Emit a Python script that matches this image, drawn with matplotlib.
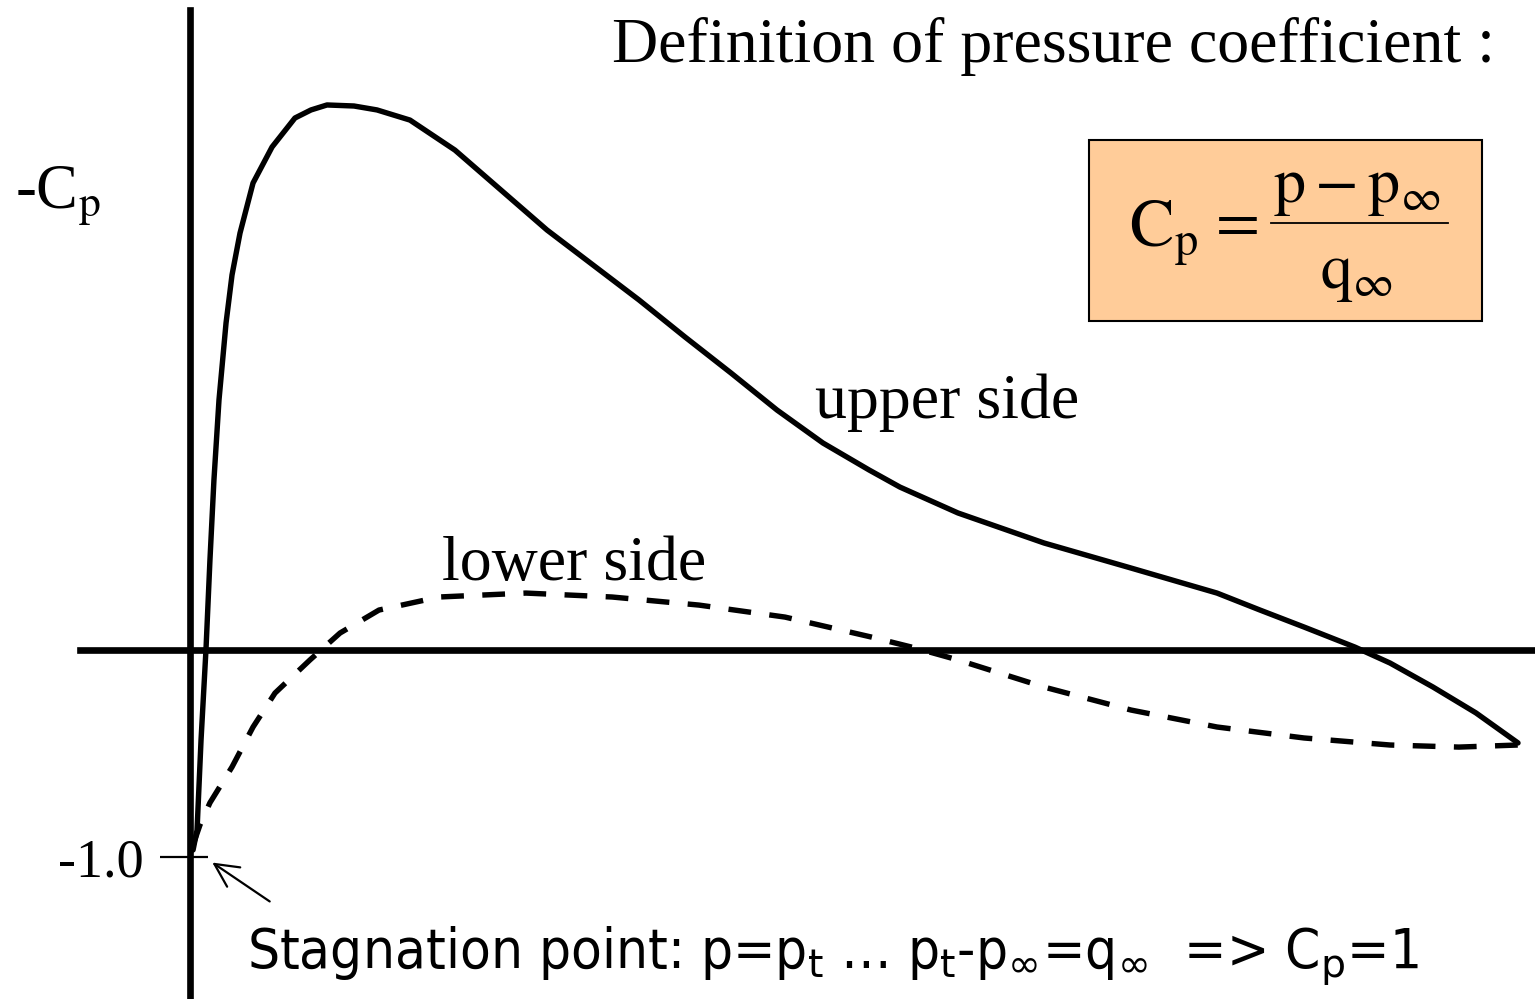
import numpy as np
import matplotlib
matplotlib.use("Agg")
import matplotlib.pyplot as plt
from matplotlib.patches import Rectangle
from matplotlib.lines import Line2D

# chord position x/c and -Cp
upper_x = [0.0023, 0.0053, 0.0083, 0.0120, 0.0150, 0.0180, 0.0218, 0.0271, 0.0316,
           0.0376, 0.0474, 0.0617, 0.0789, 0.0910, 0.1030, 0.1233, 0.1406, 0.1654,
           0.1992, 0.2338, 0.2684, 0.3030, 0.3376, 0.3722, 0.4068, 0.4414, 0.4759,
           0.5105, 0.5338, 0.5774, 0.6421, 0.7075, 0.7722, 0.8045, 0.8376, 0.8759,
           0.9023, 0.9346, 0.9669, 0.9985]
upper_cp = [-0.966, -0.870, -0.435, 0.0, 0.435, 0.821, 1.208, 1.580, 1.812,
            2.014, 2.256, 2.430, 2.570, 2.609, 2.633, 2.628, 2.609, 2.560,
            2.415, 2.222, 2.029, 1.860, 1.691, 1.512, 1.338, 1.159, 1.000,
            0.870, 0.787, 0.662, 0.517, 0.396, 0.275, 0.193, 0.111, 0.014,
            -0.063, -0.179, -0.304, -0.449]

lower_x = [0.0023, 0.0075, 0.0150, 0.0316, 0.0474, 0.0639, 0.0902, 0.1128, 0.1421,
           0.1872, 0.2526, 0.3173, 0.3827, 0.4474, 0.5120, 0.5451, 0.5774, 0.6421,
           0.7075, 0.7722, 0.8376, 0.9023, 0.9541, 0.9985]
lower_cp = [-0.942, -0.845, -0.738, -0.565, -0.372, -0.208, -0.048, 0.082, 0.193,
            0.256, 0.275, 0.256, 0.217, 0.159, 0.063, 0.010, -0.048, -0.179,
            -0.290, -0.372, -0.425, -0.459, -0.469, -0.459]

y_ticks = [-1.0]
y_tick_labels = ["-1.0"]

W, H = 1535, 999
fig = plt.figure(figsize=(W / 100, H / 100), dpi=100)
ax = fig.add_axes([0, 0, 1, 1])

# pixel layout of the sketch: origin at (190, 650), chord = 1330 px, 1 unit of Cp = 207 px
x0, y0, sx, sy = 190, 650, 1330, 207
ax.set_xlim(-x0 / sx, (W - x0) / sx)
ax.set_ylim((y0 - H) / sy, y0 / sy)

serif = "Liberation Serif"
sans = "DejaVu Sans"

def fx(px):
    return px / W

def fy(py):
    return 1 - py / H

ax.plot(upper_x, upper_cp, color="black", lw=3.9,
        solid_capstyle="round", solid_joinstyle="round")
ax.plot(lower_x, lower_cp, color="black", lw=3.9, ls=(0, (4.2, 3.4)),
        dash_capstyle="butt", dash_joinstyle="round")

for s in ["top", "right"]:
    ax.spines[s].set_visible(False)
ax.spines["left"].set_position(("data", 0))
ax.spines["bottom"].set_position(("data", 0))
ax.spines["left"].set_linewidth(4.8)
ax.spines["bottom"].set_linewidth(4.8)
ax.spines["left"].set_bounds((y0 - H) / sy, (y0 - 10) / sy)
ax.spines["bottom"].set_bounds((80 - x0) / sx, (W - x0) / sx)
ax.set_xticks([])
ax.set_yticks([])

# -1.0 tick, longer on the left than the right
for v, lab in zip(y_ticks, y_tick_labels):
    ax.hlines(v, -30 / sx, 18 / sx, color="black", lw=1.6)
    ax.text(-46 / sx, v - 6 / sy, lab, ha="right", va="center", fontsize=39, family=serif)

ax.annotate("", xy=(20 / sx, -1.0 - 4 / sy), xytext=(82 / sx, -1.0 - 46 / sy),
            arrowprops=dict(arrowstyle="->", color="black", lw=1.6, mutation_scale=42))

fig.text(fx(15), fy(208), r"-C$_\mathrm{p}$", fontsize=45, family=serif,
         math_fontfamily="stix", va="baseline", ha="left")
fig.text(fx(1495), fy(62), "Definition of pressure coefficient :", fontsize=46,
         family=serif, ha="right", va="baseline")
fig.text(fx(815), fy(418), "upper side", fontsize=46, family=serif, va="baseline")
fig.text(fx(442), fy(580), "lower side", fontsize=46, family=serif, va="baseline")

# definition box
box = Rectangle((fx(1089), fy(321)), (1482 - 1089) / W, (321 - 140) / H,
                transform=fig.transFigure, facecolor="#FFCC99", edgecolor="black", lw=1.5)
fig.add_artist(box)
fig.text(fx(1129), fy(246), r"$\mathrm{C_p}$", fontsize=48,
         math_fontfamily="stix", ha="left", va="baseline")
fig.text(fx(1232), fy(222), r"$=$", fontsize=46,
         math_fontfamily="stix", ha="center", va="center")
fig.text(fx(1357), fy(202), r"$\mathrm{p} - \mathrm{p}_\infty$", fontsize=46,
         math_fontfamily="stix", ha="center", va="baseline")
fig.add_artist(Line2D([fx(1271), fx(1448)], [fy(223), fy(223)],
                      transform=fig.transFigure, color="black", lw=1.3))
fig.text(fx(1357), fy(288), r"$\mathrm{q}_\infty$", fontsize=46,
         math_fontfamily="stix", ha="center", va="baseline")

fig.text(fx(247), fy(968),
         r"Stagnation point: p=p$_\mathrm{t}$ … p$_\mathrm{t}$-p$_\infty$=q$_\infty$  => C$_\mathrm{p}$=1",
         fontsize=40.5, family=sans, fontstretch="condensed",
         math_fontfamily="dejavusans", va="baseline", ha="left")

fig.savefig("out.png", dpi=100)
